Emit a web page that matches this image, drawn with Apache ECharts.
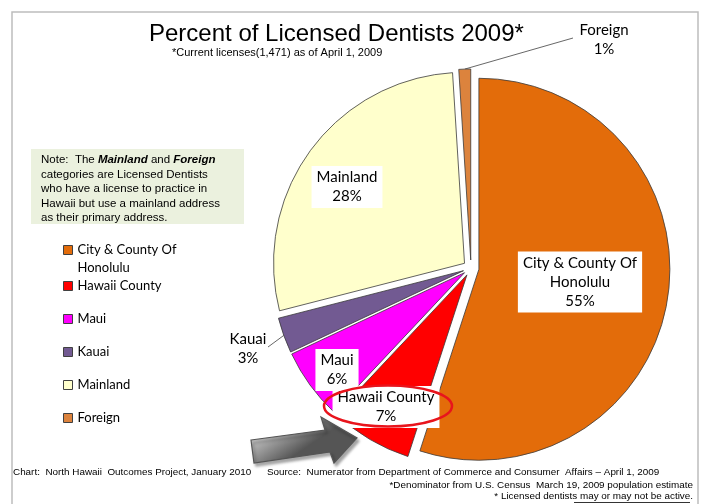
<!DOCTYPE html>
<html>
<head>
<meta charset="utf-8">
<script src="https://cdn.jsdelivr.net/npm/echarts@6/dist/echarts.min.js"></script>
<style>
  html, body { margin: 0; padding: 0; background: #fff; }
  #chart { width: 702px; height: 504px; }
</style>
</head>
<body>
<div id="chart"></div>
<script>
// data
var regions = ['City & County Of Honolulu', 'Hawaii County', 'Maui', 'Kauai', 'Mainland', 'Foreign'];
var regionLabels = ['City & County Of\nHonolulu', 'Hawaii County', 'Maui', 'Kauai', 'Mainland', 'Foreign'];
var percents = [55, 7, 6, 3, 28, 1];
var colors = ['#E36C0A', '#FF0000', '#FF00FF', '#725A92', '#FFFFCC', '#DC833D'];

var pieCenter = [471, 268];
var pieRadius = 191;
var explode = 8;
// label centres as in the original layout; outside = true gets a leader line
var labelSpots = [
    { x: 580, y: 282 },
    { x: 386, y: 407 },
    { x: 337, y: 370 },
    { x: 248, y: 349, outside: true, lineTo: [268, 347] },
    { x: 347, y: 187 },
    { x: 604, y: 40, outside: true, lineTo: [573, 38] }
];

// direction each slice is pulled out (selected offset), clockwise from 12 o'clock
function sliceShift(idx) {
    var total = 0, before = 0;
    for (var i = 0; i < percents.length; i++) {
        total += percents[i];
        if (i < idx) before += percents[i];
    }
    var mid = (before + percents[idx] / 2) / total * Math.PI * 2;
    return [Math.sin(mid) * explode, -Math.cos(mid) * explode];
}

var myChart = echarts.init(document.getElementById('chart'));

var pieData = [];
for (var i = 0; i < regions.length; i++) {
    var item = {
        name: regions[i],
        value: percents[i],
        selected: true,
        itemStyle: { color: colors[i] }
    };
    if (labelSpots[i].outside) {
        item.label = {
            position: 'outside',
            backgroundColor: 'transparent',
            padding: 0
        };
    }
    pieData.push(item);
}

myChart.setOption({
    animation: false,
    title: [{
        text: 'Percent of Licensed Dentists 2009*',
        left: 144,
        top: 17,
        textStyle: { fontFamily: 'Liberation Sans', fontSize: 24, fontWeight: 'normal', color: '#000' }
    }, {
        text: '*Current licenses(1,471) as of April 1, 2009',
        left: 167,
        top: 42,
        textStyle: { fontFamily: 'Liberation Sans', fontSize: 11, fontWeight: 'normal', color: '#000' }
    }],
    legend: [{
        data: [regions[0]],
        orient: 'vertical',
        left: 63,
        top: 223,
        padding: 0,
        itemWidth: 9,
        itemHeight: 9,
        icon: 'rect',
        selectedMode: false,
        itemStyle: { borderColor: '#404040', borderWidth: 1 },
        // blank first line keeps the marker level with the first text line
        formatter: function (name) { return '\n' + regionLabels[regions.indexOf(name)]; },
        textStyle: { fontFamily: 'Lato', fontSize: 13, color: '#000', lineHeight: 18 }
    }, {
        data: regions.slice(1),
        orient: 'vertical',
        left: 63,
        top: 277,
        padding: 0,
        itemGap: 15,
        itemWidth: 9,
        itemHeight: 9,
        icon: 'rect',
        selectedMode: false,
        itemStyle: { borderColor: '#404040', borderWidth: 1 },
        textStyle: { fontFamily: 'Lato', fontSize: 13, color: '#000', lineHeight: 18 }
    }],
    series: [{
        type: 'pie',
        center: pieCenter,
        radius: pieRadius,
        startAngle: 90,
        clockwise: true,
        selectedMode: 'multiple',
        selectedOffset: explode,
        avoidLabelOverlap: false,
        emphasis: { disabled: true },
        itemStyle: { borderColor: '#3a3a3a', borderWidth: 0.8 },
        label: {
            position: 'inside',
            formatter: function (p) { return regionLabels[p.dataIndex] + '\n' + p.value + '%'; },
            fontFamily: 'Lato',
            fontSize: 15,
            lineHeight: 19,
            color: '#000',
            align: 'center',
            backgroundColor: '#fff',
            padding: [2, 5]
        },
        labelLine: {
            show: true,
            length: 8,
            length2: 8,
            lineStyle: { color: '#404040', width: 0.8 }
        },
        labelLayout: function (p) {
            // the label rides along with its pulled-out slice, so work in the slice's frame
            var r = p.labelRect;
            var spot = labelSpots[p.dataIndex];
            var sh = sliceShift(p.dataIndex);
            var anchorX = r.x + r.width / 2;
            if (p.align === 'right') anchorX = r.x + r.width;
            else if (p.align === 'left') anchorX = r.x;
            var out = {
                dx: spot.x - sh[0] - anchorX,
                dy: spot.y - sh[1] - (r.y + r.height / 2)
            };
            if (spot.outside && p.labelLinePoints) {
                var end = [spot.lineTo[0] - sh[0], spot.lineTo[1] - sh[1]];
                out.align = 'center';
                out.labelLinePoints = [p.labelLinePoints[0], end, end];
            }
            return out;
        },
        data: pieData
    }],
    graphic: [
        // chart frame
        { type: 'rect', z: 0, silent: true,
          shape: { x: 12, y: 12, width: 686, height: 500 },
          style: { fill: 'none', stroke: '#bdbdbd', lineWidth: 1.5 } },
        // note box
        { type: 'rect', z: 1, silent: true,
          shape: { x: 31, y: 149, width: 213, height: 75 },
          style: { fill: '#EBF1DE' } },
        { type: 'text', z: 2, silent: true, left: 41, top: 153,
          style: {
              text: 'Note:  The {b|Mainland} and {b|Foreign}\ncategories are Licensed Dentists\nwho have a license to practice in\nHawaii but use a mainland address\nas their primary address.',
              fontFamily: 'Liberation Sans', fontSize: 11.5, lineHeight: 14.5, fill: '#000',
              rich: { b: { fontFamily: 'Liberation Sans', fontSize: 11.5, fontWeight: 'bold', fontStyle: 'italic', lineHeight: 14.5 } }
          } },
        // highlight ellipse round Hawaii County
        { type: 'ellipse', z: 100, silent: true,
          shape: { cx: 388, cy: 406, rx: 64, ry: 20.5 },
          style: { fill: 'none', stroke: '#E8141C', lineWidth: 2.5 } },
        // grey pointer arrow
        { type: 'polygon', z: 100, silent: true,
          shape: { points: [[251, 440], [325, 430], [321, 417], [357, 438], [334, 463], [330, 452], [254, 463]] },
          style: {
              fill: { type: 'linear', x: 0, y: 0, x2: 0.3, y2: 1, colorStops: [
                  { offset: 0, color: '#eeeeee' }, { offset: 0.5, color: '#aaaaaa' }, { offset: 1, color: '#555555' }] },
              stroke: '#555', lineWidth: 1.2,
              shadowBlur: 3, shadowOffsetX: 2, shadowOffsetY: 3, shadowColor: 'rgba(0,0,0,0.35)'
          } },
        // footers
        { type: 'text', z: 5, silent: true, left: 13, top: 467,
          style: { text: 'Chart:  North Hawaii  Outcomes Project, January 2010', fontFamily: 'Liberation Sans', fontSize: 9.9, fill: '#000' } },
        { type: 'text', z: 5, silent: true, left: 267, top: 467,
          style: { text: 'Source:  Numerator from Department of Commerce and Consumer  Affairs \u2013 April 1, 2009', fontFamily: 'Liberation Sans', fontSize: 9.9, fill: '#000' } },
        { type: 'text', z: 5, silent: true, right: 9, top: 480,
          style: { text: '*Denominator from U.S. Census  March 19, 2009 population estimate', fontFamily: 'Liberation Sans', fontSize: 9.9, fill: '#000' } },
        { type: 'text', z: 5, silent: true, right: 9, top: 491,
          style: { text: '* Licensed dentists may or may not be active.', fontFamily: 'Liberation Sans', fontSize: 9.9, fill: '#000' } },
        { type: 'line', z: 5, silent: true,
          shape: { x1: 574, y1: 502.5, x2: 690, y2: 502.5 },
          style: { stroke: '#000', lineWidth: 0.8 } }
    ]
});
</script>
</body>
</html>
